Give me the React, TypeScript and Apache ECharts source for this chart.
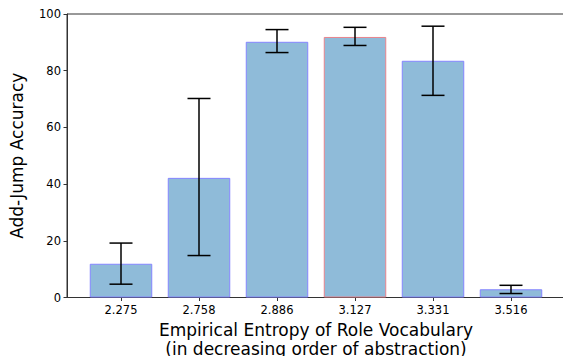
import React, { useEffect, useRef } from "react";
import * as echarts from "echarts";

const categories = ["2.275", "2.758", "2.886", "3.127", "3.331", "3.516"];
const accuracy = [11.9, 42.2, 90.2, 91.9, 83.5, 2.9];
const errLow = [4.7, 14.8, 86.4, 88.9, 71.3, 1.4];
const errHigh = [19.2, 70.2, 94.5, 95.3, 95.7, 4.3];
const highlighted = [false, false, false, true, false, false];

const FONT = "DejaVu Sans";

export default function App() {
  const ref = useRef<HTMLDivElement>(null);
  useEffect(() => {
    if (!ref.current) return;
    const chart = echarts.init(ref.current, null, { renderer: "svg" });
    const gTop = 14;
    const gBottom = 356 - 297.5;
    chart.setOption({
      animation: false,
      grid: [
        { left: 67, right: -1, top: gTop, bottom: gBottom, show: true, borderColor: "#333", borderWidth: 1, backgroundColor: "transparent", outerBoundsMode: "none", containLabel: false },
        { left: 82, width: 468, top: gTop, bottom: gBottom, outerBoundsMode: "none", containLabel: false },
      ],
      xAxis: [
        {
          gridIndex: 0, type: "value", min: 0, max: 1,
          axisLine: { show: true, lineStyle: { color: "#333", width: 1 } },
          axisTick: { show: false }, axisLabel: { show: false }, splitLine: { show: false },
        },
        {
          gridIndex: 1, type: "category", data: categories,
          axisLine: { show: false },
          axisTick: { show: true, alignWithLabel: true, length: 3.5, lineStyle: { color: "#333" } },
          axisLabel: { fontFamily: FONT, fontSize: 11.5, color: "#000", margin: 6 },
          name: "Empirical Entropy of Role Vocabulary\n(in decreasing order of abstraction)",
          nameLocation: "middle", nameGap: 22,
          nameTextStyle: { fontFamily: FONT, fontSize: 17, color: "#000", lineHeight: 19 },
        },
      ],
      yAxis: [
        {
          gridIndex: 0, type: "value", min: 0, max: 100, interval: 20,
          axisLine: { show: true, lineStyle: { color: "#333", width: 1 } },
          axisTick: { show: true, length: 3.5, lineStyle: { color: "#333" } },
          axisLabel: { fontFamily: FONT, fontSize: 11.5, color: "#000", margin: 6 },
          splitLine: { show: false },
          name: "Add-Jump Accuracy", nameLocation: "middle", nameGap: 42, nameRotate: 90,
          nameTextStyle: { fontFamily: FONT, fontSize: 17, color: "#000" },
        },
        { gridIndex: 1, type: "value", min: 0, max: 100, show: false },
      ],
      series: [
        {
          type: "bar", xAxisIndex: 1, yAxisIndex: 1, barWidth: 62.5,
          data: accuracy.map((v, i) => ({
            value: v,
            itemStyle: {
              color: "#8fbbd9",
              borderColor: highlighted[i] ? "#e8838c" : "#8585ff",
              borderWidth: 1,
            },
          })),
        },
        {
          type: "custom", xAxisIndex: 1, yAxisIndex: 1,
          data: categories.map((_, i) => [i, errLow[i], errHigh[i]]),
          renderItem: (params: any, api: any) => {
            const x = api.value(0);
            const lo = api.coord([x, api.value(1)]);
            const hi = api.coord([x, api.value(2)]);
            const cw = 11.5;
            const style = { stroke: "#000", lineWidth: 1.5 };
            return {
              type: "group",
              children: [
                { type: "line", shape: { x1: lo[0], y1: lo[1], x2: hi[0], y2: hi[1] }, style },
                { type: "line", shape: { x1: lo[0] - cw, y1: lo[1], x2: lo[0] + cw, y2: lo[1] }, style },
                { type: "line", shape: { x1: hi[0] - cw, y1: hi[1], x2: hi[0] + cw, y2: hi[1] }, style },
              ],
            };
          },
          z: 5,
        },
      ],
    });
    return () => chart.dispose();
  }, []);
  return (
    <div
      ref={ref}
      style={{ position: "fixed", left: 0, top: 0, width: 563, height: 356, background: "#fff" }}
    />
  );
}
